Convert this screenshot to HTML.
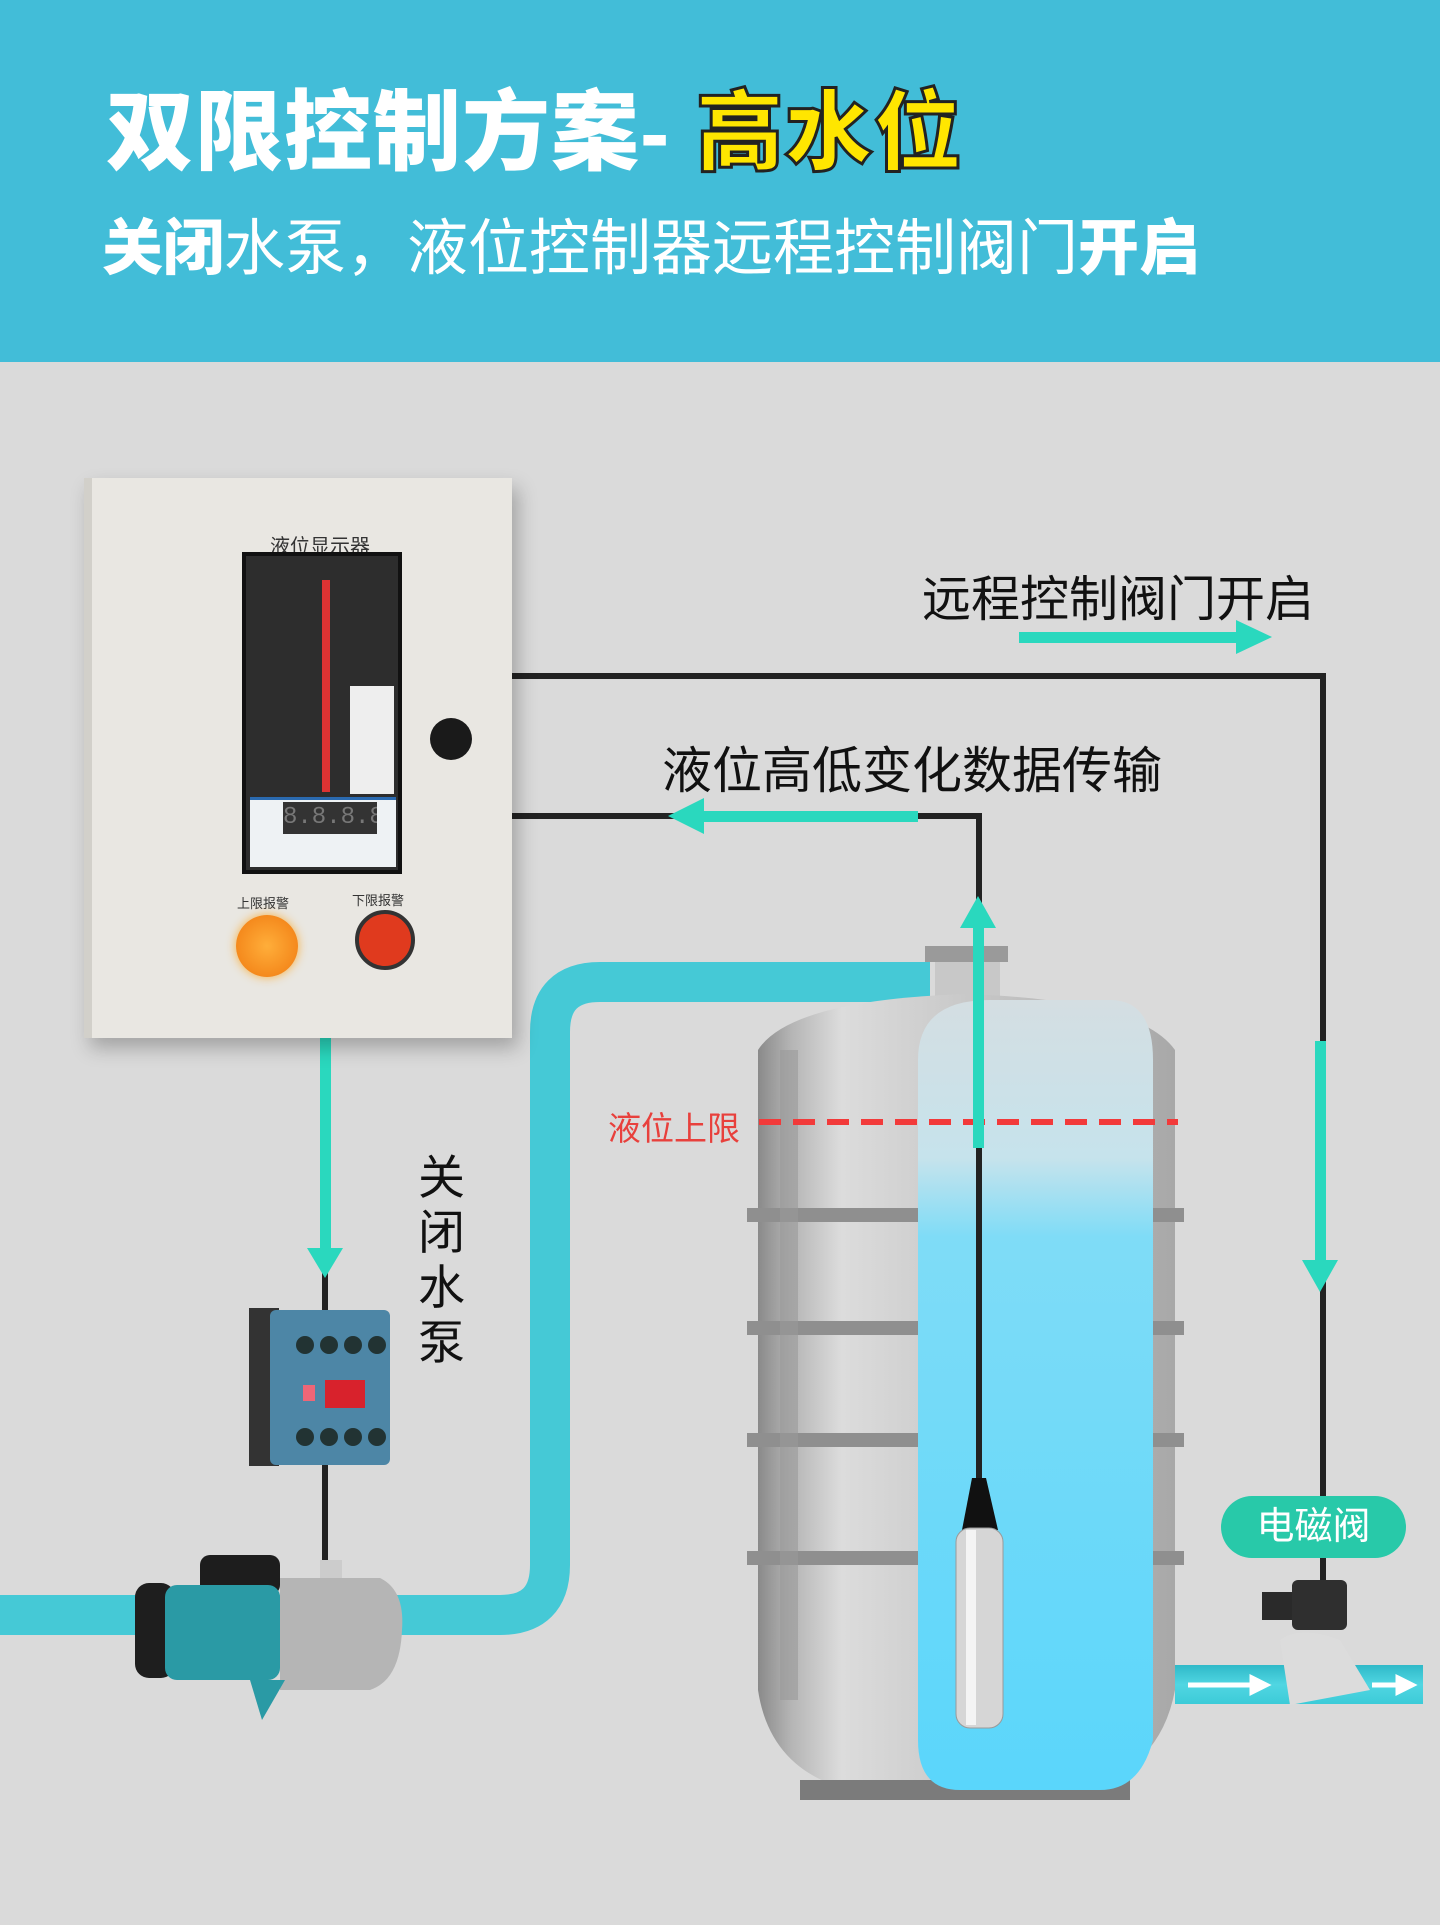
<!DOCTYPE html>
<html><head><meta charset="utf-8"><style>
*{margin:0;padding:0;box-sizing:border-box}
body{width:1440px;height:1925px;background:#dadada;position:relative;overflow:hidden;font-family:"Liberation Sans","Noto Sans CJK SC",sans-serif}
.a{position:absolute}
.hdr{left:0;top:0;width:1440px;height:362px;background:#42bdd8}
.t1{left:106px;top:62px;font-size:88px;font-weight:900;color:#fff;letter-spacing:1px;white-space:nowrap}
.t1 span{color:#ffe600;-webkit-text-stroke:3px #222}
.t2{left:102px;top:198px;font-size:61px;color:#fff;white-space:nowrap}
.t2 b{font-weight:900}
.lbl{color:#111;white-space:nowrap}
</style></head><body>
<div class="a hdr"></div>
<div class="a t1">双限控制方案- <span>高水位</span></div>
<div class="a t2"><b>关闭</b>水泵，液位控制器远程控制阀门<b>开启</b></div>

<svg class="a" style="left:0;top:0" width="1440" height="1925">
<defs>
<linearGradient id="ph" x1="0" y1="0" x2="0" y2="1"><stop offset="0" stop-color="#2fb9c8"/><stop offset="0.5" stop-color="#50d6e2"/><stop offset="1" stop-color="#3ccbd8"/></linearGradient>
<linearGradient id="wat" x1="0" y1="0" x2="0" y2="1"><stop offset="0" stop-color="#d4dee2"/><stop offset="0.2" stop-color="#c6e3ec"/><stop offset="0.3" stop-color="#7fdcf7"/><stop offset="1" stop-color="#5ad6fb"/></linearGradient>
<linearGradient id="tk" x1="0" x2="1"><stop offset="0" stop-color="#8a8a8a"/><stop offset="0.08" stop-color="#b5b5b5"/><stop offset="0.2" stop-color="#dcdcdc"/><stop offset="1" stop-color="#a8a8a8"/></linearGradient>
</defs>
<path d="M0 1615 H500 Q550 1615 550 1565 V1032 Q550 982 600 982 H930" fill="none" stroke="#45c9d6" stroke-width="40"/>
<rect x="1175" y="1665" width="248" height="39" fill="url(#ph)"/>
<rect x="925" y="946" width="83" height="16" fill="#9a9a9a"/>
<rect x="935" y="962" width="65" height="40" fill="#c8c8c8"/>
<path d="M758 1050 Q790 1000 966 994 Q1140 1000 1175 1050 V1690 Q1160 1770 1080 1790 H850 Q770 1770 758 1690 Z" fill="url(#tk)"/>
<rect x="800" y="1780" width="330" height="20" fill="#7b7b7b"/>
<g fill="#8f8f8f"><rect x="747" y="1208" width="437" height="14"/><rect x="747" y="1321" width="437" height="14"/><rect x="747" y="1433" width="437" height="14"/><rect x="747" y="1551" width="437" height="14"/></g>
<rect x="780" y="1050" width="18" height="650" fill="#999" opacity=".6"/>
<path d="M918 1060 Q918 1000 990 1000 H1110 Q1153 1000 1153 1060 V1740 Q1140 1790 1100 1790 H960 Q918 1790 918 1740 Z" fill="url(#wat)"/>
<line x1="759" y1="1122" x2="1178" y2="1122" stroke="#f23a3a" stroke-width="6" stroke-dasharray="22 12"/>
<line x1="979" y1="1148" x2="979" y2="1480" stroke="#222" stroke-width="6"/>
<path d="M972 1478 L986 1478 L998 1530 L962 1530 Z" fill="#111"/>
<rect x="956" y="1528" width="47" height="200" rx="14" fill="#d6d6d6" stroke="#999"/>
<rect x="966" y="1530" width="10" height="195" fill="#f4f4f4"/>
<g fill="none" stroke="#222" stroke-width="6">
<path d="M511 676 H1323 V1620"/>
<path d="M511 816 H979 V1148"/>
<line x1="325" y1="1030" x2="325" y2="1570"/>
</g>
<g fill="#2ad8be">
<rect x="1019" y="632" width="222" height="11"/><path d="M1236 620 L1272 637 L1236 654 Z"/>
<rect x="700" y="811" width="218" height="11"/><path d="M704 798 L668 816 L704 834 Z"/>
<rect x="973" y="925" width="11" height="223"/><path d="M960 928 L978 896 L996 928 Z"/>
<rect x="1315" y="1041" width="11" height="225"/><path d="M1302 1260 L1320 1292 L1338 1260 Z"/>
<rect x="320" y="1029" width="11" height="225"/><path d="M307 1248 L325 1278 L343 1248 Z"/>
</g>
<rect x="249" y="1308" width="30" height="158" fill="#333"/>
<rect x="270" y="1310" width="120" height="155" rx="6" fill="#4d86a6"/>
<g fill="#233"><circle cx="305" cy="1345" r="9"/><circle cx="329" cy="1345" r="9"/><circle cx="353" cy="1345" r="9"/><circle cx="377" cy="1345" r="9"/><circle cx="305" cy="1437" r="9"/><circle cx="329" cy="1437" r="9"/><circle cx="353" cy="1437" r="9"/><circle cx="377" cy="1437" r="9"/></g>
<rect x="325" y="1380" width="40" height="28" fill="#d8222c"/>
<rect x="303" y="1385" width="12" height="16" fill="#e67"/>
<rect x="320" y="1560" width="22" height="25" fill="#ccc"/>
<rect x="200" y="1555" width="80" height="40" rx="10" fill="#1d1d1d"/>
<rect x="135" y="1583" width="40" height="95" rx="14" fill="#1e1e1e"/>
<rect x="165" y="1585" width="115" height="95" rx="12" fill="#2a9aa5"/>
<path d="M280 1578 H380 Q405 1590 402 1630 Q400 1680 370 1690 H280 Z" fill="#b5b5b5"/>
<path d="M250 1680 L285 1680 L262 1720 Z" fill="#2a9aa5"/>
<rect x="1262" y="1592" width="45" height="28" fill="#2a2a2a"/>
<rect x="1292" y="1580" width="55" height="50" rx="6" fill="#2f2f2f"/>
<path d="M1280 1640 Q1300 1625 1340 1640 L1370 1690 L1290 1705 Z" fill="#dcdcdc"/>
<g stroke="#fff" stroke-width="5" fill="#fff"><line x1="1188" y1="1685" x2="1255" y2="1685"/><path d="M1252 1678 L1266 1685 L1252 1692 Z"/><line x1="1372" y1="1685" x2="1400" y2="1685"/><path d="M1398 1678 L1412 1685 L1398 1692 Z"/></g>
</svg>

<div class="a" style="left:84px;top:478px;width:428px;height:560px;background:#e9e7e2;border-left:8px solid #d2d0ca;box-shadow:6px 10px 18px rgba(0,0,0,.25)"></div>
<div class="a" style="left:270px;top:530px;font-size:20px;color:#333">液位显示器</div>
<div class="a" style="left:242px;top:552px;width:160px;height:322px;background:#2d2d2d;border:4px solid #111"></div>
<div class="a" style="left:322px;top:580px;width:8px;height:212px;background:#d33"></div>
<div class="a" style="left:350px;top:686px;width:44px;height:108px;background:#eee"></div>
<div class="a" style="left:250px;top:797px;width:146px;height:70px;background:#eef2f4;border-top:3px solid #2a6ab0"></div>
<div class="a" style="left:283px;top:802px;width:94px;height:32px;background:#333;color:#777;font-size:24px;font-family:'Liberation Mono',monospace;line-height:32px;text-align:center;overflow:hidden">8.8.8.8</div>
<div class="a" style="left:430px;top:718px;width:42px;height:42px;border-radius:50%;background:#1a1a1a"></div>
<div class="a" style="left:237px;top:893px;font-size:13px;color:#333">上限报警</div>
<div class="a" style="left:352px;top:890px;font-size:13px;color:#333">下限报警</div>
<div class="a" style="left:236px;top:915px;width:62px;height:62px;border-radius:50%;background:radial-gradient(#ffae3a,#f07a10);box-shadow:0 0 10px #f8b040"></div>
<div class="a" style="left:355px;top:910px;width:60px;height:60px;border-radius:50%;background:#e03a1e;border:4px solid #333"></div>

<div class="a lbl" style="left:922px;top:560px;font-size:49px">远程控制阀门开启</div>
<div class="a lbl" style="left:662px;top:731px;font-size:50px">液位高低变化数据传输</div>
<div class="a lbl" style="left:418px;top:1150px;width:50px;line-height:55px;white-space:normal;font-size:47px">关闭水泵</div>
<div class="a" style="left:608px;top:1102px;font-size:33px;color:#e8403c">液位上限</div>
<div class="a" style="left:1221px;top:1496px;width:185px;height:62px;border-radius:31px;background:#28c9a9;color:#fff;font-size:38px;text-align:center;line-height:62px">电磁阀</div>
</body></html>
